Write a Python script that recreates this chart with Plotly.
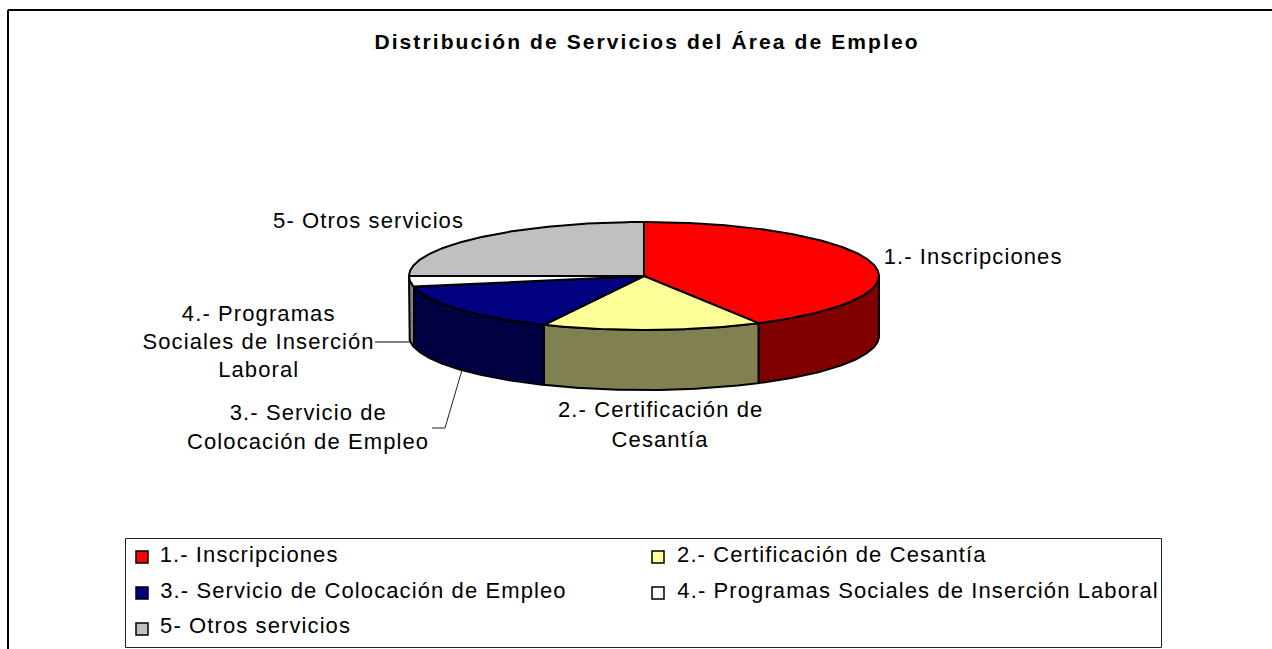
import numpy as np
import plotly.graph_objects as go

# Data (percent shares)
categories = ["1.- Inscripciones", "2.- Certificación de Cesantía",
              "3.- Servicio de Colocación de Empleo",
              "4.- Programas Sociales de Inserción Laboral", "5- Otros servicios"]
values = [41.9, 15.1, 14.7, 3.3, 25.0]
top_colors = ["#FF0000", "#FFFF99", "#000080", "#FFFFFF", "#C0C0C0"]
side_colors = ["#800000", "#808050", "#000040", "#808080", "#606060"]
title_text = "Distribución de Servicios del Área de Empleo"
slice_labels = [
    (["1.- Inscripciones"], [973], [256]),
    (["2.- Certificación de", "Cesantía"], [660, 660], [409, 439]),
    (["3.- Servicio de", "Colocación de Empleo"], [308, 308], [412, 441]),
    (["4.- Programas", "Sociales de Inserción", "Laboral"], [258, 258, 258], [313, 341, 369]),
    (["5- Otros servicios"], [368], [220]),
]

# Layout of the drawing in page pixels
CX, CY, RX, RY, DEPTH = 644, 276, 235, 54, 60
FONT = "Liberation Sans"
LBL = 22


def arc(a0, a1, dy=0):
    t = np.radians(np.linspace(a0, a1, max(3, int(abs(a1 - a0)) * 2)))
    return CX + RX * np.sin(t), CY - RY * np.cos(t) + dy


fig = go.Figure()
edges = np.concatenate([[0], np.cumsum(values)]) / sum(values) * 360

# Side walls (only the part of the rim facing the viewer)
for i in range(len(values)):
    a0, a1 = max(edges[i], 90), min(edges[i + 1], 270)
    if a1 <= a0:
        continue
    xt, yt = arc(a0, a1)
    xb, yb = arc(a1, a0, DEPTH)
    fig.add_trace(go.Scatter(x=np.r_[xt, xb, xt[0]], y=np.r_[yt, yb, yt[0]], mode="lines",
                             fill="toself", fillcolor=side_colors[i],
                             line=dict(color="black", width=2), hoverinfo="skip", showlegend=False))

# Top faces
for i in range(len(values)):
    xa, ya = arc(edges[i], edges[i + 1])
    fig.add_trace(go.Scatter(x=np.r_[CX, xa, CX], y=np.r_[CY, ya, CY], mode="lines",
                             fill="toself", fillcolor=top_colors[i],
                             line=dict(color="black", width=2), name=categories[i],
                             text=f"{values[i]}%", hoverinfo="name+text", showlegend=False))

# Leader lines
fig.add_trace(go.Scatter(x=[375, 410], y=[342, 342], mode="lines",
                         line=dict(color="#555555", width=1.5), hoverinfo="skip", showlegend=False))
fig.add_trace(go.Scatter(x=[462, 445, 432], y=[370, 428, 428], mode="lines",
                         line=dict(color="#222222", width=1), hoverinfo="skip", showlegend=False))

# Legend, two columns
leg_x = [142, 658, 142, 658, 142]
leg_y = [557, 557, 593, 593, 629]
leg_text_x = [249, 832, 363, 918, 255]
leg_text_y = [554, 554, 590, 590, 625]
fig.add_trace(go.Scatter(x=leg_x, y=leg_y, mode="markers",
                         marker=dict(symbol="square", size=12, color=top_colors,
                                     line=dict(color="black", width=1.5)),
                         hoverinfo="skip", showlegend=False))

ann = []
for c, x, y in zip(categories, leg_text_x, leg_text_y):
    ann.append(dict(x=x, y=y, text=c, xanchor="center", yanchor="middle", showarrow=False,
                    xref="x", yref="y", font=dict(family=FONT, size=LBL, color="black")))
for lines, xs, ys in slice_labels:
    for t, x, y in zip(lines, xs, ys):
        ann.append(dict(x=x, y=y, text=t, xanchor="center", yanchor="middle", showarrow=False,
                        xref="x", yref="y", font=dict(family=FONT, size=LBL, color="black")))

shapes = [
    dict(type="line", x0=8, x1=1272, y0=10, y1=10, line=dict(color="black", width=2)),
    dict(type="line", x0=8, x1=8, y0=10, y1=649, line=dict(color="black", width=2)),
    dict(type="rect", x0=125.5, x1=1161.5, y0=538.5, y1=647.5, line=dict(color="#222222", width=1)),
]

fig.update_layout(
    width=1272, height=649, margin=dict(l=0, r=0, t=0, b=0),
    paper_bgcolor="white", plot_bgcolor="white", showlegend=False,
    title=dict(text="<b>" + title_text + "</b>", x=647 / 1272, y=1 - 42 / 649,
               xanchor="center", yanchor="middle", font=dict(family=FONT, size=21, color="black")),
    xaxis=dict(range=[0, 1272], visible=False, fixedrange=True),
    yaxis=dict(range=[649, 0], visible=False, fixedrange=True),
    annotations=ann, shapes=shapes,
)

post = """
document.body.style.margin='0';document.body.style.overflow='hidden';
var s=document.createElement('style');
s.textContent='.annotation-text{letter-spacing:1.1px}.gtitle{letter-spacing:2.1px}';
document.head.appendChild(s);
Plotly.redraw('{plot_id}');
"""
fig.write_html("out.html", config={"displayModeBar": False}, post_script=post)
